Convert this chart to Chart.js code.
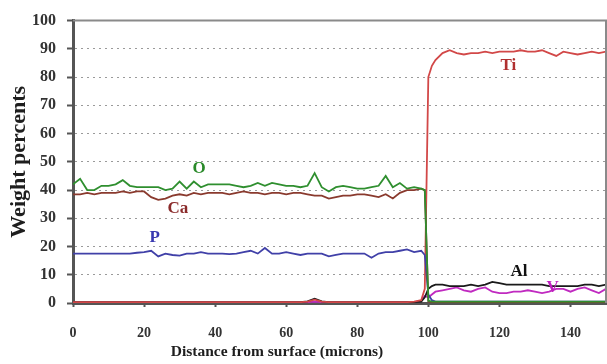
<!DOCTYPE html>
<html>
<head>
<meta charset="utf-8">
<script src="https://cdn.jsdelivr.net/npm/chart.js@4/dist/chart.umd.min.js"></script>
<style>
html,body{margin:0;padding:0;background:#fff;}
canvas{display:block;}
</style>
</head>
<body>
<canvas id="c" width="607" height="364"></canvas>
<script>
// Distance from surface (microns)
const distance = [0,2,4,6,8,10,12,14,16,18,20,22,24,26,28,30,32,34,36,38,40,42,44,46,48,50,52,54,56,58,60,62,64,66,68,70,72,74,76,78,80,82,84,86,88,90,92,94,96,98,
  99,100,101,
  102,104,106,108,110,112,114,116,118,120,122,124,126,128,130,132,134,136,138,140,142,144,146,148,150];

const oValues = [42,44,40,40,41.5,41.5,42,43.5,41.5,41,41,41,41,40,40.5,43,40.5,43,41,42,42,42,42,41.5,41,41.5,42.5,41.5,42.5,42,41.5,41.5,41,41.5,46,41,39.5,41,41.5,41,40.5,40.5,41,41.5,45,41,42.5,40.5,41,40.5,
  40,0.8,0.5,
  0.5,0.5,0.5,0.5,0.5,0.5,0.5,0.5,0.5,0.5,0.5,0.5,0.5,0.5,0.5,0.5,0.5,0.5,0.5,0.5,0.5,0.5,0.5,0.5,0.5];

const caValues = [38.5,38.5,39,38.5,39,39,39,39.5,39,39.5,39.5,37.5,36.5,37,38,38.5,38,39,38.5,39,39,39,38.5,39,39.5,39,39,38.5,39,39,38.5,39,39,38.5,38,38,37,37.5,38,38,38.5,38.5,38,37.5,38.5,37,39,40,40,40.5,
  40,0.5,0.3,
  0.3,0.3,0.3,0.3,0.3,0.3,0.3,0.3,0.3,0.3,0.3,0.3,0.3,0.3,0.3,0.3,0.3,0.3,0.3,0.3,0.3,0.3,0.3,0.3,0.3];

const pValues = [17.5,17.5,17.5,17.5,17.5,17.5,17.5,17.5,17.5,17.8,18,18.5,16.5,17.5,17,16.8,17.5,17.5,18,17.5,17.5,17.5,17.3,17.5,18,18.5,17.5,19.5,17.5,17.5,18,17.5,17,17.5,17.5,17.5,16.5,17,17.5,17.5,17.5,17.5,16,17.5,18,18,18.5,19,18,18.5,
  17,3,1,
  0.5,0.5,0.5,0.5,0.5,0.5,0.5,0.5,0.5,0.5,0.5,0.5,0.5,0.5,0.5,0.5,0.5,0.5,0.5,0.5,0.5,0.5,0.5,0.5,0.5];

const tiValues = [0.3,0.3,0.3,0.3,0.3,0.3,0.3,0.3,0.3,0.3,0.3,0.3,0.3,0.3,0.3,0.3,0.3,0.3,0.3,0.3,0.3,0.3,0.3,0.3,0.3,0.3,0.3,0.3,0.3,0.3,0.3,0.3,0.3,0.5,1.2,0.5,0.3,0.3,0.3,0.3,0.3,0.3,0.3,0.3,0.3,0.3,0.3,0.3,0.5,1,
  5,80,84,
  86,88.5,89.5,88.5,88,88.5,88.5,89,88.5,89,89,89,89.5,89,89,89.5,88.5,87.5,89,88.5,88,88.5,89,88.5,89];

const alValues = [0.3,0.3,0.3,0.3,0.3,0.3,0.3,0.3,0.3,0.3,0.3,0.3,0.3,0.3,0.3,0.3,0.3,0.3,0.3,0.3,0.3,0.3,0.3,0.3,0.3,0.3,0.3,0.3,0.3,0.3,0.3,0.3,0.3,0.6,1.5,0.6,0.3,0.3,0.3,0.3,0.3,0.3,0.3,0.3,0.3,0.3,0.3,0.3,0.3,0.5,
  2,5,6,
  6.5,6.5,6,6,6,6.5,6,6.5,7.5,7,6.5,6.5,6.5,6.5,6.5,6.5,6,6,6,6,6,6.5,6.5,6,6.5];

const vValues = [0.2,0.2,0.2,0.2,0.2,0.2,0.2,0.2,0.2,0.2,0.2,0.2,0.2,0.2,0.2,0.2,0.2,0.2,0.2,0.2,0.2,0.2,0.2,0.2,0.2,0.2,0.2,0.2,0.2,0.2,0.2,0.2,0.2,0.3,0.5,0.3,0.2,0.2,0.2,0.2,0.2,0.2,0.2,0.2,0.2,0.2,0.2,0.2,0.3,0.8,
  2.5,2,3,
  4,4.5,5,5.5,4.5,4,5,5.5,4,3.5,3.5,4,4,4.5,4,3.5,4,5,5,4,5,5.5,4.5,3.5,5];

const seriesNames = ['O','Ca','P','Ti','Al','V'];
const seriesColors = ['#2f8f2f','#8a3a2e','#4040a8','#d24848','#1a1a1a','#c02ac0'];

// Text labels placed on the plot (data coordinates)
const labelNames = ['O','Ca','P','Ti','Al','V'];
const labelX = [35.5, 29.5, 23, 122.5, 125.5, 135];
const labelY = [47.5, 33.5, 23, 84, 11, 5.5];
const labelColors = ['#2a8a2a','#8a2a2a','#3838b0','#b03030','#111111','#c020c0'];

const yTicks = [0,10,20,30,40,50,60,70,80,90,100];
const xTicks = [0,20,40,60,80,100,120,140];
const xTitle = 'Distance from surface (microns)';
const yTitle = 'Weight percents';

const allValues = [oValues, caValues, pValues, tiValues, alValues, vValues];
const datasets = seriesNames.map((n, i) => ({
  label: n,
  data: distance.map((d, j) => ({x: d, y: allValues[i][j]})),
  borderColor: seriesColors[i],
  backgroundColor: seriesColors[i],
  borderWidth: 1.8,
  pointRadius: 0,
  tension: 0,
  fill: false
}));

const SERIF = '"Liberation Serif", "Times New Roman", serif';

const decorPlugin = {
  id: 'decor',
  afterDatasetsDraw(chart) {
    const ctx = chart.ctx;
    const a = chart.chartArea;
    ctx.save();
    ctx.strokeStyle = '#8a8a8a';
    ctx.lineWidth = 2;
    ctx.beginPath();
    ctx.moveTo(a.left, a.top);
    ctx.lineTo(a.right, a.top);
    ctx.lineTo(a.right, a.bottom);
    ctx.stroke();
    const xs = chart.scales.x, ys = chart.scales.y;
    ctx.font = 'bold 17px ' + SERIF;
    ctx.textAlign = 'center';
    ctx.textBaseline = 'middle';
    labelNames.forEach((t, i) => {
      ctx.fillStyle = labelColors[i];
      ctx.fillText(t, xs.getPixelForValue(labelX[i]), ys.getPixelForValue(labelY[i]));
    });
    // axis titles
    ctx.fillStyle = '#1e1e1e';
    ctx.font = 'bold 15.5px ' + SERIF;
    ctx.fillText(xTitle, 277, 352);
    ctx.save();
    ctx.translate(19, (a.top + a.bottom) / 2);
    ctx.rotate(-Math.PI / 2);
    ctx.font = 'bold 22px ' + SERIF;
    ctx.fillText(yTitle, 0, 0);
    ctx.restore();
    ctx.restore();
  }
};

new Chart(document.getElementById('c'), {
  type: 'line',
  data: { datasets },
  options: {
    responsive: false,
    devicePixelRatio: 1,
    animation: false,
    events: [],
    layout: { padding: { left: 0, top: 17, right: 1, bottom: 0 } },
    plugins: { legend: { display: false }, tooltip: { enabled: false } },
    scales: {
      x: {
        type: 'linear',
        min: 0, max: 150,
        afterFit(s) { s.height = 61; },
        afterBuildTicks(s) { s.ticks = xTicks.map(v => ({value: v})); },
        ticks: {
          includeBounds: false,
          padding: 18,
          color: '#333',
          font: { family: SERIF, size: 14, weight: 'bold' },
          maxRotation: 0
        },
        grid: { drawOnChartArea: false, drawTicks: true, tickLength: 4, tickColor: '#555', tickWidth: 2 },
        border: { display: true, color: '#555', width: 3 },
        title: { display: false }
      },
      y: {
        type: 'linear',
        min: 0, max: 100,
        afterFit(s) { s.width = 73; },
        afterBuildTicks(s) { s.ticks = yTicks.map(v => ({value: v})); },
        ticks: {
          padding: 11,
          color: '#333',
          font: { family: SERIF, size: 16, weight: 'bold' }
        },
        grid: {
          color: c => (c.tick && c.tick.value === 100) ? 'rgba(0,0,0,0)' : '#9a9a9a',
          lineWidth: 1,
          tickLength: 6,
          tickColor: '#555',
          tickWidth: 2,
          tickBorderDash: []
        },
        border: { display: true, color: '#555', width: 3, dash: [2, 4] },
        title: { display: false }
      }
    }
  },
  plugins: [decorPlugin]
});
</script>
</body>
</html>
